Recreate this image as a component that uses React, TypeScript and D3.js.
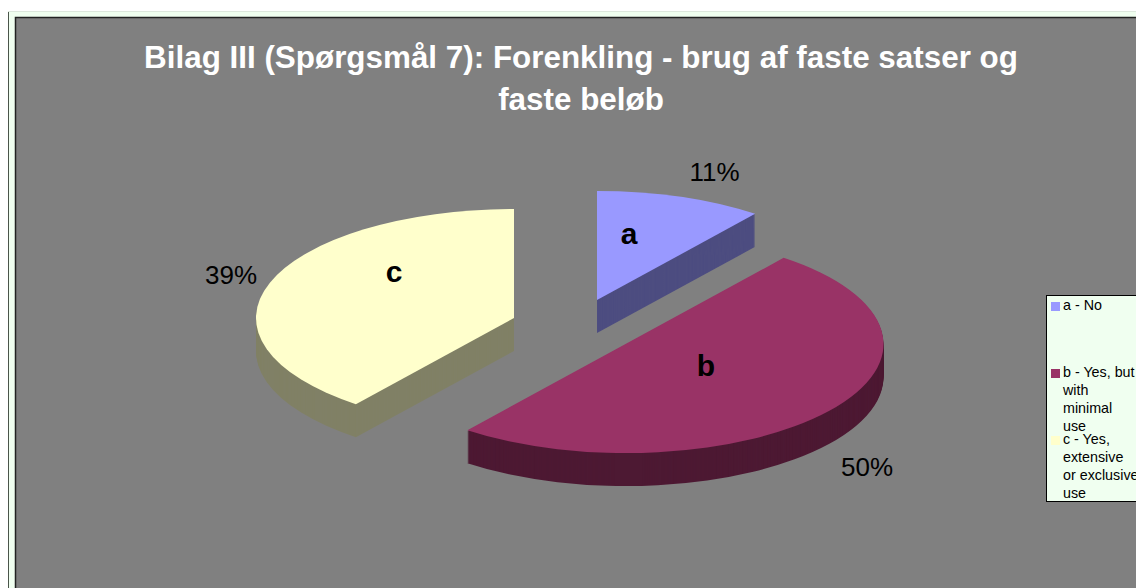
import React from 'react';
import * as d3 from 'd3';

const sliceNames = ['a', 'b', 'c'];
const sliceShares = [10.5, 50, 39.5];
const shareLabels = ['11%', '50%', '39%'];
const faceColors = ['#9999FF', '#993366', '#FFFFCC'];
const sideColors = ['#4D4D80', '#4D1933', '#808066'];
const legendLines = [
  ['a - No'],
  ['b - Yes, but', 'with', 'minimal', 'use'],
  ['c - Yes,', 'extensive', 'or exclusive', 'use'],
];
const titleLines = ['Bilag III (Spørgsmål 7): Forenkling - brug af faste satser og', 'faste beløb'];

const width = 1136;
const height = 588;
const rx = 258;
const ry = 109;
const depth = 33;
const fontFamily = '"Liberation Sans", Arial, sans-serif';

// where each exploded slice has its apex, and where its labels sit
const apexes = [[597, 300], [625.5, 344], [514, 318]];
const namePos = [[629, 244], [706, 376], [394, 282]];
const labelPos = [[714.5, 181], [867, 476], [231, 284]];
const legendTops = [310, 377, 444];

const App = () => {
  const slices = d3.pie<number>().sort(null)(sliceShares);
  // drawn as a circle of radius rx, then squashed to get the tilted look
  const arc = d3.arc<d3.PieArcDatum<number>>().innerRadius(0).outerRadius(rx);
  const squash = ry / rx;
  const offsets = d3.range(depth, 0, -1);

  return (
    <svg width={width} height={height} style={{ position: 'absolute', left: 0, top: 0, display: 'block' }} fontFamily={fontFamily}>
      <rect x={8.5} y={11.5} width={width} height={height} fill="#F0FFF0" stroke="#DDE8DD" />
      <line x1={8.5} y1={12} x2={8.5} y2={height} stroke="#4A554A" />
      <rect x={15.5} y={17.5} width={width} height={height} fill="#808080" stroke="#222" strokeWidth={1.5} />

      {titleLines.map((t, i) => (
        <text key={t} x={581} y={68 + i * 42} textAnchor="middle" fontSize={31.4} fontWeight="bold" fill="#fff">{t}</text>
      ))}

      {slices.map((s, i) => (
        <g key={sliceNames[i]}>
          {offsets.map(o => (
            <path
              key={o}
              d={arc(s) as string}
              fill={sideColors[i]}
              transform={`translate(${apexes[i][0]},${apexes[i][1] + o}) scale(1,${squash})`}
            />
          ))}
          <path
            d={arc(s) as string}
            fill={faceColors[i]}
            transform={`translate(${apexes[i][0]},${apexes[i][1]}) scale(1,${squash})`}
          />
        </g>
      ))}

      {sliceNames.map((n, i) => (
        <text key={n} x={namePos[i][0]} y={namePos[i][1]} textAnchor="middle" fontSize={30} fontWeight="bold" fill="#000">{n}</text>
      ))}
      {shareLabels.map((l, i) => (
        <text key={l} x={labelPos[i][0]} y={labelPos[i][1]} textAnchor="middle" fontSize={26} fill="#000">{l}</text>
      ))}

      <rect x={1046.5} y={295.5} width={100} height={206} fill="#F0FFF0" stroke="#000" />
      {legendLines.map((lines, i) => (
        <g key={lines[0]}>
          <rect x={1051} y={legendTops[i] - 8} width={9} height={9} fill={faceColors[i]} />
          {lines.map((t, j) => (
            <text key={t} x={1063} y={legendTops[i] + j * 18} fontSize={14.3} fill="#000">{t}</text>
          ))}
        </g>
      ))}
    </svg>
  );
};

export default App;
